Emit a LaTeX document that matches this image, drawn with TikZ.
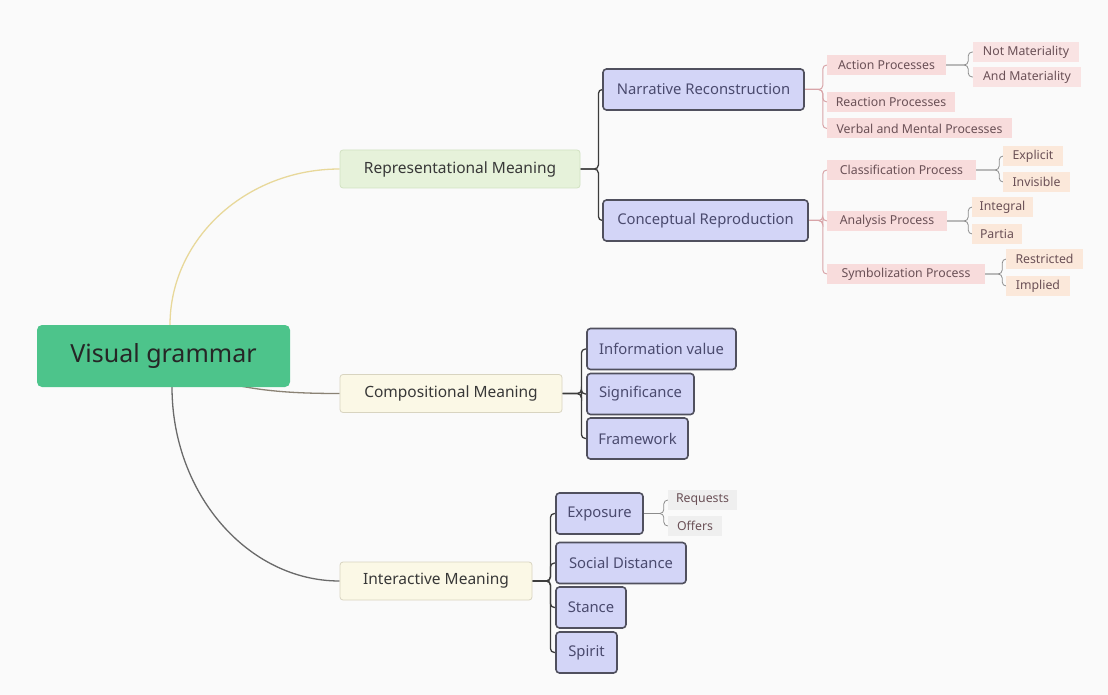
\documentclass[tikz,border=0pt]{standalone}
\usepackage{fontspec}
\setmainfont{Noto Sans}
\usetikzlibrary{calc}
\pgfdeclarelayer{back}
\pgfdeclarelayer{bg}
\pgfsetlayers{back,bg,main}
\definecolor{vgfill}{HTML}{4DC48B}
\definecolor{repfill}{HTML}{E6F2DA}
\definecolor{repdraw}{HTML}{D2E2C2}
\definecolor{creamfill}{HTML}{FBF8E6}
\definecolor{creamdraw}{HTML}{D8D4C0}
\definecolor{lavfill}{HTML}{D3D5F7}
\definecolor{lavdraw}{HTML}{50505E}
\definecolor{lavtext}{HTML}{4A4A6E}
\definecolor{pinkfill}{HTML}{F8DCDC}
\definecolor{pinktext}{HTML}{6A5056}
\definecolor{peachfill}{HTML}{FBE8DA}
\definecolor{greyfill}{HTML}{EFEFEF}
\definecolor{pinkline}{HTML}{D8A4A8}
\definecolor{darkline}{HTML}{3C3C3C}
\definecolor{curvey}{HTML}{E8D89A}
\definecolor{curvec}{HTML}{8A8274}
\definecolor{curvei}{HTML}{6A6A6A}
\tikzset{
  root/.style={fill=vgfill, rounded corners=5pt, minimum height=62pt, inner sep=0pt,
    font=\fontsize{25}{28}\selectfont, text=black!85},
  main/.style={rounded corners=3pt, minimum height=38pt, inner sep=0pt, line width=0.8pt,
    font=\fontsize{15.5}{18}\selectfont, text=black!78},
  lav/.style={fill=lavfill, draw=lavdraw, line width=1.6pt, rounded corners=3.5pt,
    minimum height=41pt, inner sep=0pt, font=\fontsize{14.8}{17}\selectfont, text=lavtext},
  pk/.style={fill=pinkfill, minimum height=20pt, inner sep=0pt,
    font=\fontsize{12.3}{14}\selectfont, text=pinktext},
  leaf/.style={minimum height=20pt, inner sep=0pt, font=\fontsize{12.3}{14}\selectfont, text=pinktext},
  conn/.style={draw=darkline, line width=1.3pt, rounded corners=4pt},
  pconn/.style={draw=pinkline, line width=1pt, rounded corners=4pt},
  gconn/.style={draw=black!45, line width=0.8pt, rounded corners=4pt},
}
\begin{document}
\begin{tikzpicture}[x=1pt,y=-1pt]
\begin{pgfonlayer}{back}
\fill[white!98!black] (0,0) rectangle (1108,695);
\end{pgfonlayer}
\useasboundingbox (0,0) rectangle (1108,695);
% root
\node[root, minimum width=253pt] (vg) at (163.5,356) {Visual grammar};
% level 1
\node[main, fill=repfill, draw=repdraw, minimum width=240pt] (rep) at (460,169) {Representational Meaning};
\node[main, fill=creamfill, draw=creamdraw, minimum width=222pt] (comp) at (451,393.5) {Compositional Meaning};
\node[main, fill=creamfill, draw=creamdraw, minimum width=192pt] (int) at (436,581) {Interactive Meaning};
% level 2
\node[lav, minimum width=201pt] (narr) at (703.5,89.5) {Narrative Reconstruction};
\node[lav, minimum width=205pt] (conc) at (705.5,220.5) {Conceptual Reproduction};
\node[lav, minimum width=149pt] (info) at (661.5,349) {Information value};
\node[lav, minimum width=107pt] (sig) at (640.5,394) {Significance};
\node[lav, minimum width=101pt] (frame) at (637.5,438.5) {Framework};
\node[lav, minimum width=87pt] (expo) at (599.5,513.5) {Exposure};
\node[lav, minimum width=130pt] (soc) at (621,563) {Social Distance};
\node[lav, minimum width=70pt] (stance) at (591,607.5) {Stance};
\node[lav, minimum width=61pt] (spirit) at (586.5,652.5) {Spirit};
% level 3
\node[pk, minimum width=119pt] (act) at (886.5,65) {Action Processes};
\node[pk, minimum width=128pt] (react) at (891,102) {Reaction Processes};
\node[pk, minimum width=185pt] (verb) at (919.5,128.5) {Verbal and Mental Processes};
\node[pk, minimum width=149pt] (class) at (901.5,170) {Classification Process};
\node[pk, minimum width=120pt] (anal) at (887,221) {Analysis Process};
\node[pk, minimum width=158pt] (symb) at (906,274) {Symbolization Process};
% level 4
\node[leaf, fill=pinkfill!80!white, minimum width=106pt] (notm) at (1026,52) {Not Materiality};
\node[leaf, fill=pinkfill!80!white, minimum width=108pt] (andm) at (1027,77) {And Materiality};
\node[leaf, fill=peachfill, minimum width=60pt] (expl) at (1033,156) {Explicit};
\node[leaf, fill=peachfill, minimum width=67pt] (invi) at (1036.5,182) {Invisible};
\node[leaf, fill=peachfill, minimum width=61pt] (integ) at (1002.5,207) {Integral};
\node[leaf, fill=peachfill, minimum width=50pt] (part) at (997,234) {Partia};
\node[leaf, fill=peachfill, minimum width=77pt] (restr) at (1044.5,259) {Restricted};
\node[leaf, fill=peachfill, minimum width=64pt] (impl) at (1038,286) {Implied};
\node[leaf, fill=greyfill, minimum width=69pt] (req) at (702.5,500) {Requests};
\node[leaf, fill=greyfill, minimum width=54pt] (off) at (695,526) {Offers};
\begin{pgfonlayer}{bg}
  % root curves
  \draw[curvey, line width=1.3pt] (vg.center) ++(6.5,0) -- ++(0,-31) .. controls (170,239) and (246,169) .. (rep.west);
  \draw[curvec, line width=1.3pt] (vg.center) .. controls (215,390) and (280,393.5) .. (comp.west);
  \draw[curvei, line width=1.3pt] (vg.center) ++(8.5,0) -- ++(0,31) .. controls (172,494) and (248,581) .. (int.west);
  % level 1 -> 2
  \foreach \c in {narr,conc} \draw[conn] (rep.east) -- ++(18,0) |- (\c.west);
  \foreach \c in {info,sig,frame} \draw[conn] (comp.east) -- ++(19,0) |- (\c.west);
  \foreach \c in {expo,soc,stance,spirit} \draw[conn] (int.east) -- ++(18,0) |- (\c.west);
  % level 2 -> 3
  \foreach \c in {act,react,verb} \draw[pconn] (narr.east) -- ++(18,0) |- (\c.west);
  \foreach \c in {class,anal,symb} \draw[pconn] (conc.east) -- ++(14,0) |- (\c.west);
  \foreach \c in {req,off} \draw[gconn] (expo.east) -- ++(20,0) |- (\c.west);
  % level 3 -> 4
  \foreach \c in {notm,andm} \draw[gconn] (act.east) -- ++(22,0) |- (\c.west);
  \foreach \c in {expl,invi} \draw[gconn] (class.east) -- ++(23,0) |- (\c.west);
  \foreach \c in {integ,part} \draw[gconn] (anal.east) -- ++(21,0) |- (\c.west);
  \foreach \c in {restr,impl} \draw[gconn] (symb.east) -- ++(17,0) |- (\c.west);
\end{pgfonlayer}
\end{tikzpicture}
\end{document}
